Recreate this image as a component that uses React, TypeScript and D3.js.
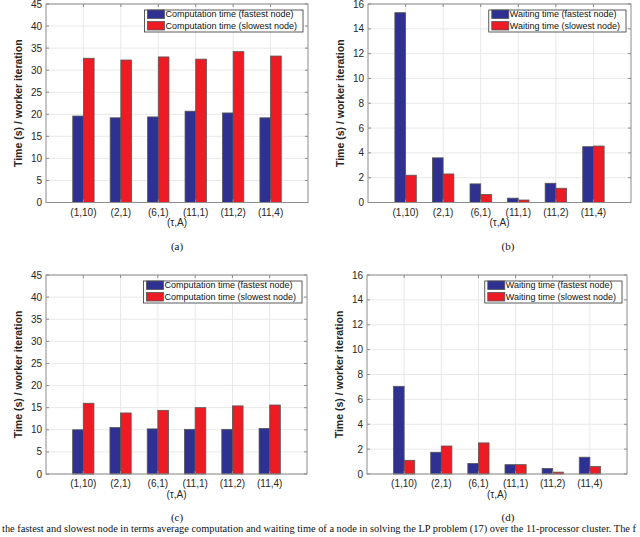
import React, { useEffect, useRef } from "react";
import * as d3 from "d3";

const categories = ["(1,10)", "(2,1)", "(6,1)", "(11,1)", "(11,2)", "(11,4)"];

const compFastA = [19.6, 19.2, 19.4, 20.7, 20.3, 19.2];
const compSlowA = [32.7, 32.3, 33.0, 32.5, 34.2, 33.2];
const waitFastB = [15.3, 3.6, 1.5, 0.35, 1.55, 4.5];
const waitSlowB = [2.2, 2.3, 0.65, 0.2, 1.15, 4.55];
const compFastC = [10.0, 10.5, 10.2, 10.1, 10.1, 10.3];
const compSlowC = [16.0, 13.8, 14.4, 15.0, 15.4, 15.6];
const waitFastD = [7.05, 1.75, 0.85, 0.75, 0.45, 1.35];
const waitSlowD = [1.1, 2.25, 2.5, 0.75, 0.15, 0.6];

const compTicks = [0, 5, 10, 15, 20, 25, 30, 35, 40, 45];
const waitTicks = [0, 2, 4, 6, 8, 10, 12, 14, 16];

const compLegend = ["Computation time (fastest node)", "Computation time (slowest node)"];
const waitLegend = ["Waiting time (fastest node)", "Waiting time (slowest node)"];

const BLUE = "#2e3192";
const RED = "#ed1c24";
const FONT = "'Liberation Sans', Arial, Helvetica, sans-serif";
const SERIF = "'Liberation Serif', 'Times New Roman', serif";

interface PanelSpec {
  left: number;
  top: number;
  right: number;
  bottom: number;
  ticks: number[];
  fast: number[];
  slow: number[];
  legend: string[];
  caption: string;
  captionX: number;
}

const panels: PanelSpec[] = [
  { left: 46, top: 4, right: 308, bottom: 202.5, ticks: compTicks, fast: compFastA, slow: compSlowA, legend: compLegend, caption: "(a)", captionX: 177 },
  { left: 368, top: 4, right: 631, bottom: 202.5, ticks: waitTicks, fast: waitFastB, slow: waitSlowB, legend: waitLegend, caption: "(b)", captionX: 508 },
  { left: 46, top: 275, right: 307, bottom: 474, ticks: compTicks, fast: compFastC, slow: compSlowC, legend: compLegend, caption: "(c)", captionX: 177 },
  { left: 367, top: 275, right: 627, bottom: 474, ticks: waitTicks, fast: waitFastD, slow: waitSlowD, legend: waitLegend, caption: "(d)", captionX: 508 },
];

const App: React.FC = () => {
  const svgRef = useRef<SVGSVGElement>(null);

  useEffect(() => {
    const svg = d3.select(svgRef.current);
    svg.selectAll("*").remove();

    panels.forEach((p) => {
      const g = svg.append("g");
      const x = d3.scaleLinear().domain([0, categories.length + 1]).range([p.left, p.right]);
      const y = d3.scaleLinear().domain([0, d3.max(p.ticks)!]).range([p.bottom, p.top]);
      const barW = 0.285;
      const offset = d3.scaleBand<number>().domain([0, 1]).range([-barW, barW]);

      // grid
      g.selectAll(".gy").data(p.ticks).join("line")
        .attr("x1", p.left).attr("x2", p.right)
        .attr("y1", (d) => y(d)).attr("y2", (d) => y(d))
        .attr("stroke", "#e8e8e8").attr("stroke-width", 1);
      g.selectAll(".gx").data(categories).join("line")
        .attr("x1", (_d, i) => x(i + 1)).attr("x2", (_d, i) => x(i + 1))
        .attr("y1", p.top).attr("y2", p.bottom)
        .attr("stroke", "#e8e8e8").attr("stroke-width", 1);

      // bars
      [p.fast, p.slow].forEach((vals, s) => {
        g.selectAll(null).data(vals).join("rect")
          .attr("x", (_d, i) => x(i + 1 + offset(s)!))
          .attr("width", x(barW) - x(0))
          .attr("y", (d) => y(d))
          .attr("height", (d) => y(0) - y(d))
          .attr("fill", s === 0 ? BLUE : RED)
          .attr("stroke", "#555")
          .attr("stroke-width", 0.8);
      });

      // axes box
      g.append("rect")
        .attr("x", p.left).attr("y", p.top)
        .attr("width", p.right - p.left).attr("height", p.bottom - p.top)
        .attr("fill", "none").attr("stroke", "#8c8c8c").attr("stroke-width", 1);

      // ticks
      p.ticks.forEach((t) => {
        g.append("line").attr("x1", p.left).attr("x2", p.left + 3)
          .attr("y1", y(t)).attr("y2", y(t)).attr("stroke", "#8c8c8c");
        g.append("line").attr("x1", p.right).attr("x2", p.right - 3)
          .attr("y1", y(t)).attr("y2", y(t)).attr("stroke", "#8c8c8c");
        g.append("text").attr("x", p.left - 4).attr("y", y(t))
          .attr("dy", "0.35em").attr("text-anchor", "end")
          .attr("font-family", FONT).attr("font-size", 10).attr("fill", "#262626")
          .text(t);
      });
      categories.forEach((c, i) => {
        g.append("line").attr("x1", x(i + 1)).attr("x2", x(i + 1))
          .attr("y1", p.bottom).attr("y2", p.bottom - 3).attr("stroke", "#8c8c8c");
        g.append("line").attr("x1", x(i + 1)).attr("x2", x(i + 1))
          .attr("y1", p.top).attr("y2", p.top + 3).attr("stroke", "#8c8c8c");
        g.append("text").attr("x", x(i + 1)).attr("y", p.bottom + 13)
          .attr("text-anchor", "middle")
          .attr("font-family", FONT).attr("font-size", 10).attr("fill", "#262626")
          .text(c);
      });

      // axis labels
      const midX = (p.left + p.right) / 2;
      const midY = (p.top + p.bottom) / 2;
      g.append("text").attr("x", midX).attr("y", p.bottom + 23.5)
        .attr("text-anchor", "middle")
        .attr("font-family", FONT).attr("font-size", 10).attr("fill", "#262626")
        .text("(τ,A)");
      g.append("text")
        .attr("transform", `translate(${p.left - 24},${midY}) rotate(-90)`)
        .attr("text-anchor", "middle")
        .attr("font-family", FONT).attr("font-size", 10.5).attr("font-weight", "bold")
        .attr("fill", "#262626")
        .text("Time (s) / worker iteration");

      // caption
      g.append("text").attr("x", p.captionX).attr("y", p.bottom + 47)
        .attr("text-anchor", "middle")
        .attr("font-family", SERIF)
        .attr("font-size", 11).attr("fill", "#111")
        .text(p.caption);

      // legend
      const lg = g.append("g");
      const texts = p.legend.map((l, i) =>
        lg.append("text").attr("y", p.top + 10 + i * 11.5 + 3.3)
          .attr("font-family", FONT).attr("font-size", 9).attr("fill", "#111")
          .text(l)
      );
      const tw = d3.max(texts, (t) => (t.node() as SVGTextElement).getComputedTextLength())!;
      const boxW = tw + 27;
      const boxX = p.right - 5 - boxW;
      const boxY = p.top + 6;
      lg.insert("rect", ":first-child")
        .attr("x", boxX).attr("y", boxY).attr("width", boxW).attr("height", 22)
        .attr("fill", "white").attr("stroke", "#333").attr("stroke-width", 0.8);
      texts.forEach((t, i) => {
        t.attr("x", boxX + 21);
        lg.append("rect")
          .attr("x", boxX + 3).attr("y", p.top + 10 + i * 11.5 - 4)
          .attr("width", 17).attr("height", 8.5)
          .attr("fill", i === 0 ? BLUE : RED).attr("stroke", "#555").attr("stroke-width", 0.8);
      });
    });

    // figure caption line at the foot of the page
    svg.append("text").attr("x", 2).attr("y", 532)
      .attr("font-family", SERIF)
      .attr("font-size", 10).attr("fill", "#111")
      .attr("textLength", 634).attr("lengthAdjust", "spacingAndGlyphs")
      .text("the fastest and slowest node in terms average computation and waiting time of a node in solving the LP problem (17) over the 11-processor cluster. The f");
  }, []);

  return (
    <svg ref={svgRef} width={640} height={537}
      style={{ position: "absolute", left: 0, top: 0, background: "white" }} />
  );
};

export default App;
